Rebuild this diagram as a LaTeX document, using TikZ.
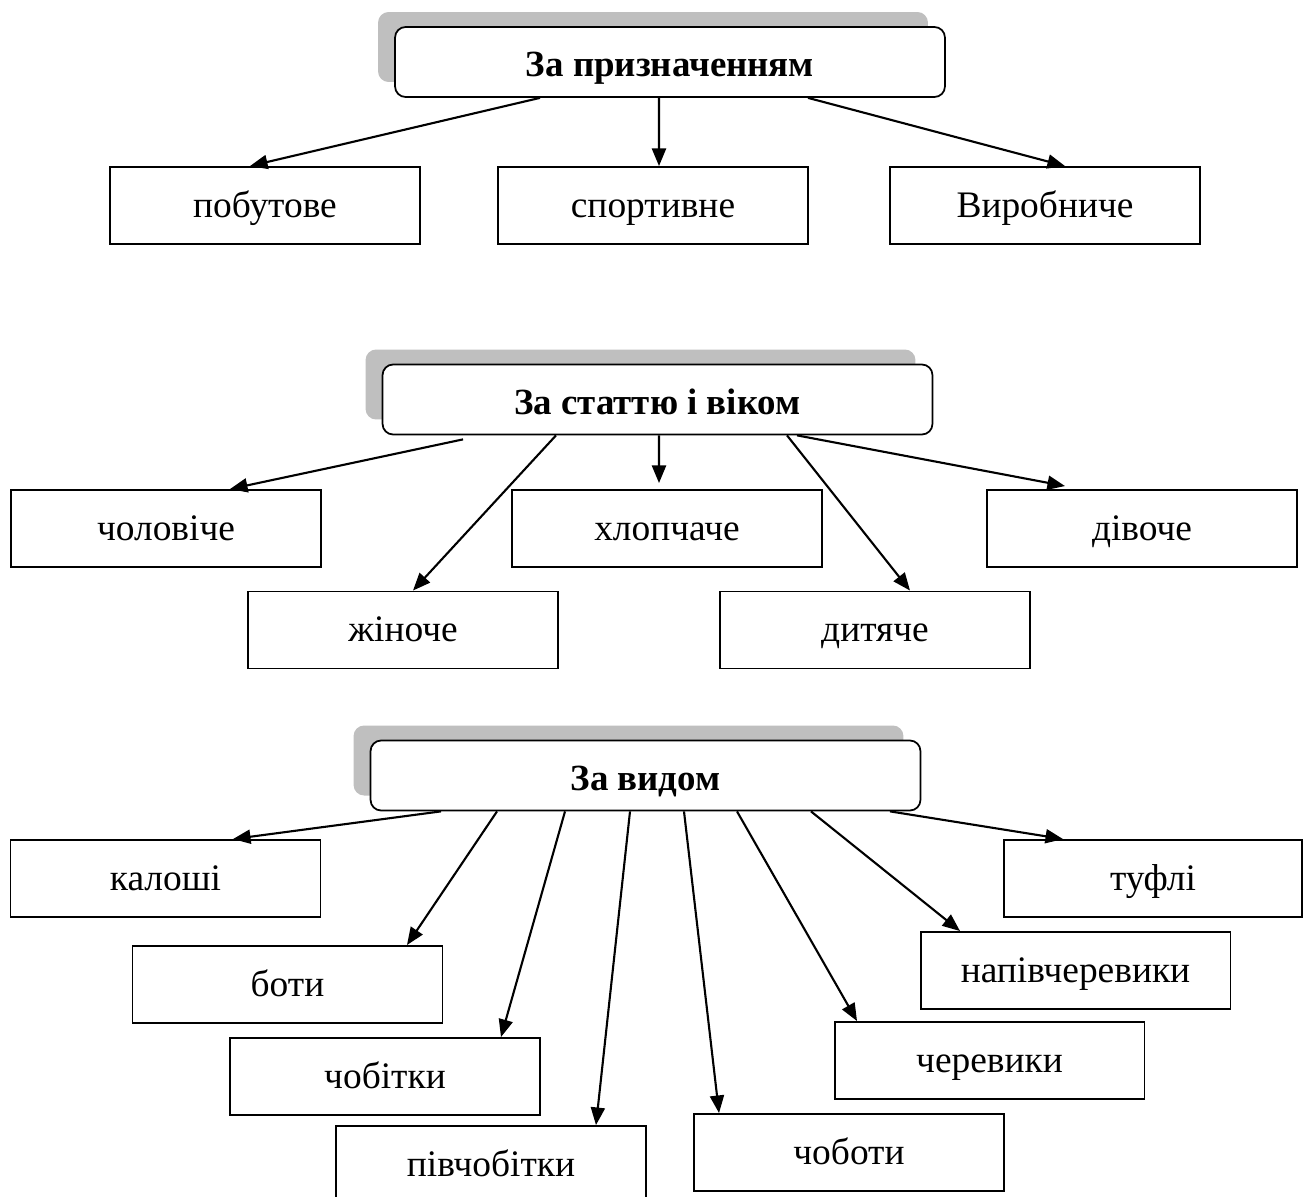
\documentclass[tikz,border=0pt]{standalone}
\usepackage{fontspec}
\setmainfont{Liberation Serif}
\usetikzlibrary{arrows.meta, shadows}

\tikzset{
    headbox/.style={draw, line width=1pt, fill=white, rounded corners=6pt,
        minimum width=11cm, minimum height=1.4cm, text height=17pt, text depth=0pt,
        font=\fontsize{21}{25}\selectfont\bfseries,
        general shadow={fill=black!25, rounded corners=6pt, shadow xshift=-0.34cm, shadow yshift=0.3cm}},
    catbox/.style={draw, line width=1.1pt, fill=white, minimum width=6.2cm, minimum height=1.54cm,
        text height=16.3pt, text depth=3.2pt, font=\fontsize{21.3}{25}\selectfont},
    arr/.style={-{Triangle[length=10pt, width=8pt]}, line width=1.2pt}
}

\begin{document}
\begin{tikzpicture}[x=0.02cm, y=-0.02cm]
    \clip (0,0) rectangle (1304,1196);

    % --- за призначенням ---
    \node[headbox] (hdr1) at (670,62) {За призначенням};
    \node[catbox] (pob) at (265,205.5) {побутове};
    \node[catbox] (sport) at (653,205.5) {спортивне};
    \node[catbox] (vyr) at (1045,205.5) {Виробниче};

    \draw[arr] ([xshift=-2.6cm]hdr1.south) -- ([xshift=-0.3cm]pob.north);
    \draw[arr] ([xshift=-0.22cm]hdr1.south) -- ([xshift=0.12cm]sport.north);
    \draw[arr] ([xshift=2.76cm]hdr1.south) -- ([xshift=0.4cm]vyr.north);

    % --- за статтю і віком ---
    \node[headbox] (hdr2) at (657.5,399.5) {За статтю і віком};
    \node[catbox] (chol) at (166,528.5) {чоловіче};
    \node[catbox] (khlop) at (667,528.5) {хлопчаче};
    \node[catbox] (div) at (1142,528.5) {дівоче};
    \node[catbox] (zhin) at (403,630) {жіноче};
    \node[catbox] (dyt) at (875,630) {дитяче};

    \draw[arr] ([xshift=-3.89cm, yshift=-0.08cm]hdr2.south) -- ([xshift=1.28cm]chol.north);
    \draw[arr] ([xshift=-2.03cm]hdr2.south) -- ([xshift=0.2cm]zhin.north);
    \draw[arr, shorten >=0.12cm] ([xshift=0.03cm]hdr2.south) -- ([xshift=-0.16cm]khlop.north);
    \draw[arr] ([xshift=2.59cm]hdr2.south) -- ([xshift=0.7cm]dyt.north);
    \draw[arr] ([xshift=2.79cm]hdr2.south) -- ([xshift=-1.54cm, yshift=0.06cm]div.north);

    % --- за видом ---
    \node[headbox] (hdr3) at (645.5,775.5) {За видом};
    \node[catbox] (kal) at (165.5,878.5) {калоші};
    \node[catbox, minimum width=5.96cm] (tuf) at (1153,878.5) {туфлі};
    \node[catbox] (boty) at (287.5,984.5) {боти};
    \node[catbox] (napiv) at (1075.5,970.5) {напівчеревики};
    \node[catbox] (chobitky) at (385,1076.5) {чобітки};
    \node[catbox] (cherev) at (989.5,1060.5) {черевики};
    \node[catbox] (pivch) at (491,1164.5) {півчобітки};
    \node[catbox] (choboty) at (849,1152.5) {чоботи};

    \draw[arr] ([xshift=-4.09cm]hdr3.south) -- ([xshift=1.35cm]kal.north);
    \draw[arr] ([xshift=-2.97cm]hdr3.south) -- ([xshift=2.39cm]boty.north);
    \draw[arr] ([xshift=-1.61cm]hdr3.south) -- ([xshift=2.32cm]chobitky.north);
    \draw[arr] ([xshift=-0.31cm]hdr3.south) -- ([xshift=2.1cm]pivch.north);
    \draw[arr] ([xshift=0.77cm]hdr3.south) -- ([xshift=-2.6cm]choboty.north);
    \draw[arr] ([xshift=1.83cm]hdr3.south) -- ([xshift=-2.65cm]cherev.north);
    \draw[arr] ([xshift=3.31cm]hdr3.south) -- ([xshift=-2.31cm]napiv.north);
    \draw[arr] ([xshift=4.89cm]hdr3.south) -- ([xshift=-1.8cm]tuf.north);
\end{tikzpicture}
\end{document}
